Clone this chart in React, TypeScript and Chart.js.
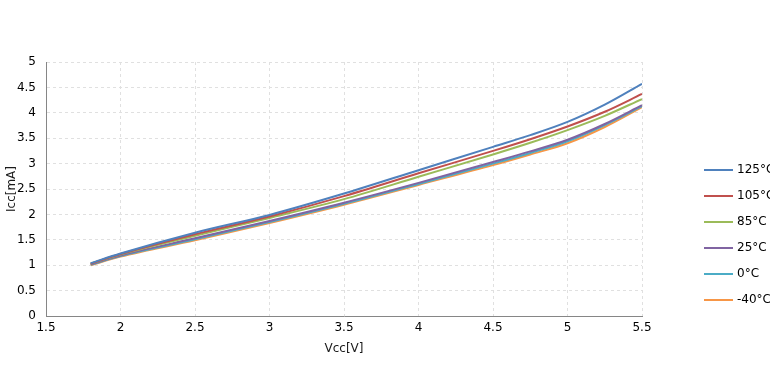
import React, { useEffect, useRef } from "react";
import { Chart, registerables } from "chart.js";

Chart.register(...registerables);

const vcc = [1.8, 2.0, 2.5, 3.0, 3.5, 4.0, 4.5, 4.75, 5.0, 5.25, 5.5];
const labels = ["125°C", "105°C", "85°C", "25°C", "0°C", "-40°C"];
const s125 = [1.04, 1.23, 1.64, 1.99, 2.41, 2.87, 3.33, 3.56, 3.82, 4.16, 4.57];
const s105 = [1.03, 1.22, 1.61, 1.96, 2.36, 2.81, 3.25, 3.48, 3.73, 4.02, 4.37];
const s85 = [1.03, 1.21, 1.58, 1.93, 2.3, 2.74, 3.18, 3.41, 3.66, 3.94, 4.27];
const s25 = [1.02, 1.19, 1.53, 1.87, 2.23, 2.62, 3.03, 3.24, 3.47, 3.78, 4.15];
const s0 = [1.01, 1.18, 1.51, 1.85, 2.21, 2.6, 3.0, 3.21, 3.44, 3.76, 4.13];
const sm40 = [1.0, 1.17, 1.49, 1.83, 2.19, 2.58, 2.97, 3.18, 3.4, 3.72, 4.11];
const colors = ["#4F81BD", "#C0504D", "#9BBB59", "#8064A2", "#4BACC6", "#F79646"];

const FONT = "'DejaVu Sans', sans-serif";
const fmt = (v: any) => String(Math.round(Number(v) * 10) / 10);

export default function App() {
  const ref = useRef<HTMLCanvasElement | null>(null);
  useEffect(() => {
    if (!ref.current) return;
    const series = [s125, s105, s85, s25, s0, sm40];
    const legendPlugin = {
      id: "customLegend",
      afterDraw(chart: any) {
        const ctx = chart.ctx;
        ctx.save();
        chart.data.datasets.forEach((ds: any, i: number) => {
          const y = 170 + i * 26;
          ctx.strokeStyle = ds.borderColor;
          ctx.lineWidth = 2;
          ctx.beginPath();
          ctx.moveTo(704, y);
          ctx.lineTo(733, y);
          ctx.stroke();
          ctx.fillStyle = "#000";
          ctx.font = `12px ${FONT}`;
          ctx.textBaseline = "middle";
          ctx.textAlign = "left";
          ctx.fillText(ds.label, 737, y);
        });
        ctx.restore();
      },
    };
    const chart = new Chart(ref.current, {
      type: "line",
      data: {
        datasets: series.map((s, i) => ({
          label: labels[i],
          data: s.map((v, j) => ({ x: vcc[j], y: v })),
          borderColor: colors[i],
          backgroundColor: colors[i],
          borderWidth: 2,
          pointRadius: 0,
          cubicInterpolationMode: "monotone" as const,
          fill: false,
        })),
      },
      options: {
        responsive: false,
        animation: false,
        layout: { padding: { top: 62, right: 128, left: 0, bottom: 0 } },
        plugins: { legend: { display: false }, tooltip: { enabled: false } },
        scales: {
          x: {
            type: "linear",
            min: 1.5,
            max: 5.5,
            ticks: { stepSize: 0.5, padding: 5, color: "#000", font: { family: FONT, size: 12 }, callback: fmt },
            grid: { color: "#E0E0E0", drawTicks: false },
            border: { color: "#868686", width: 1, dash: [3, 3] },
            title: { display: true, text: "Vcc[V]", color: "#1a1a1a", font: { family: FONT, size: 12 }, padding: { top: 0, bottom: 20 } },
            afterFit: (s: any) => { s.height = 60; },
          },
          y: {
            type: "linear",
            min: 0,
            max: 5,
            ticks: { stepSize: 0.5, padding: 10, color: "#000", font: { family: FONT, size: 12 }, callback: fmt },
            grid: { color: "#E0E0E0", drawTicks: false },
            border: { color: "#868686", width: 1, dash: [3, 3] },
            title: { display: true, text: "Icc[mA]", color: "#1a1a1a", font: { family: FONT, size: 12 }, padding: { top: 5, bottom: 0 } },
            afterFit: (s: any) => { s.width = 46; },
          },
        },
      },
      plugins: [legendPlugin],
    });
    return () => chart.destroy();
  }, []);
  return (
    <div style={{ position: "fixed", left: 0, top: 0, width: 770, height: 376, background: "#fff" }}>
      <canvas ref={ref} width={770} height={376} style={{ width: 770, height: 376 }} />
    </div>
  );
}
